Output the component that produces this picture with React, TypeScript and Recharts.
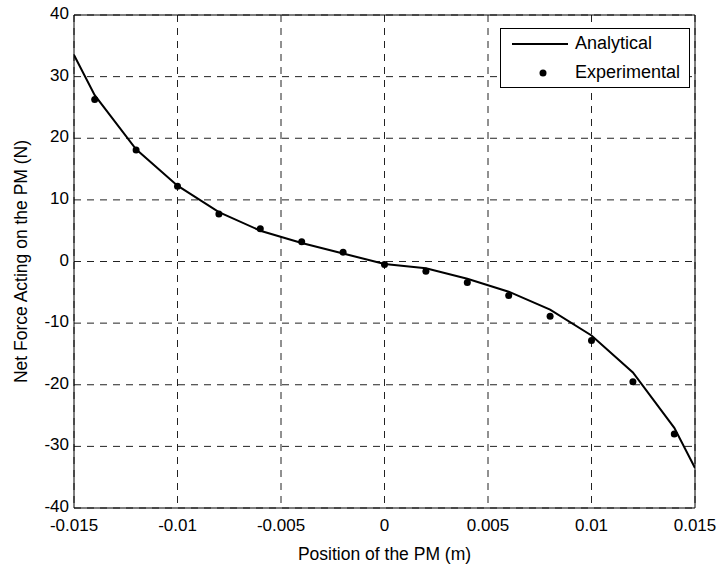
import React from 'react';
import {
  ComposedChart,
  Line,
  Scatter,
  XAxis,
  YAxis,
  CartesianGrid,
  Legend,
  ReferenceLine,
} from 'recharts';

// analytical curve, sampled at the same positions as the measurements (+ the ends)
const linePositions = [
  -0.015, -0.014, -0.012, -0.01, -0.008, -0.006, -0.004, -0.002, 0, 0.002, 0.004, 0.006, 0.008,
  0.01, 0.012, 0.014, 0.015,
];
const lineForce = [
  33.5, 27.0, 18.2, 12.3, 8.0, 5.0, 3.0, 1.3, -0.4, -1.1, -2.8, -4.9, -7.8, -12.0, -18.0, -27.0,
  -33.5,
];

// measured points
const pointPositions = [
  -0.014, -0.012, -0.01, -0.008, -0.006, -0.004, -0.002, 0, 0.002, 0.004, 0.006, 0.008, 0.01,
  0.012, 0.014,
];
const pointForce = [
  26.3, 18.1, 12.2, 7.7, 5.3, 3.2, 1.5, -0.5, -1.6, -3.4, -5.5, -8.9, -12.8, -19.5, -28.0,
];

const xTicks = [-0.015, -0.01, -0.005, 0, 0.005, 0.01, 0.015];
const yTicks = [-40, -30, -20, -10, 0, 10, 20, 30, 40];

const FONT = '"Liberation Sans", Arial, sans-serif';

const lineData = linePositions.map((x, i) => ({ x, f: lineForce[i] }));
const pointData = pointPositions.map((x, i) => ({ x, f: pointForce[i] }));

function YTick(props: any) {
  const { x, y, payload } = props;
  return (
    <text x={x} y={y - 2} dy="0.355em" textAnchor="end" fill="#000" fontSize={17} fontFamily={FONT}>
      {payload.value}
    </text>
  );
}

function MatlabLegend() {
  return (
    <div
      style={{
        width: 188,
        height: 58,
        border: '1px solid #000',
        background: '#fff',
        fontFamily: FONT,
        fontSize: 18,
        color: '#000',
        position: 'relative',
        textAlign: 'left',
      }}
    >
      <svg width={60} height={58} style={{ position: 'absolute', left: 8, top: 0 }}>
        <line x1={3} x2={59} y1={15} y2={15} stroke="#000" strokeWidth={2} />
        <circle cx={34} cy={44} r={3.5} fill="#000" />
      </svg>
      <div style={{ position: 'absolute', left: 74, top: 4, whiteSpace: 'nowrap' }}>Analytical</div>
      <div style={{ position: 'absolute', left: 74, top: 33, whiteSpace: 'nowrap' }}>Experimental</div>
    </div>
  );
}

export default function App() {
  return (
    <div style={{ position: 'absolute', left: 0, top: 0, width: 719, height: 566, background: '#fff' }}>
      <ComposedChart
        width={719}
        height={566}
        margin={{ top: 15, right: 24, left: 0, bottom: 0 }}
      >
        <CartesianGrid stroke="#222" strokeDasharray="7 6" />
        <XAxis
          dataKey="x"
          type="number"
          domain={[-0.015, 0.015]}
          ticks={xTicks}
          tickFormatter={(v) => String(v)}
          height={58}
          tickLine={false}
          tickSize={0}
          tickMargin={11}
          axisLine={{ stroke: '#000' }}
          tick={{ fill: '#000', fontSize: 17, fontFamily: FONT }}
          interval={0}
          allowDataOverflow
          label={{
            value: 'Position of the PM (m)',
            position: 'insideBottom',
            offset: 6,
            fill: '#000',
            fontSize: 17.5,
            fontFamily: FONT,
          }}
        />
        <YAxis
          dataKey="f"
          type="number"
          domain={[-40, 40]}
          ticks={yTicks}
          width={74}
          tickLine={false}
          tickSize={0}
          tickMargin={5}
          axisLine={{ stroke: '#000' }}
          tick={<YTick />}
          interval={0}
          allowDataOverflow
          label={{
            value: 'Net Force Acting on the PM (N)',
            angle: -90,
            position: 'insideLeft',
            offset: 21,
            fill: '#000',
            fontSize: 17.5,
            fontFamily: FONT,
            style: { textAnchor: 'middle' },
          }}
        />
        <ReferenceLine y={40} stroke="#000" />
        <ReferenceLine x={0.015} stroke="#000" />
        <Legend
          layout="horizontal"
          verticalAlign="middle"
          content={<MatlabLegend />}
          wrapperStyle={{ position: 'absolute', left: 500, top: 28, width: 190, height: 60 }}
        />
        <Line
          name="Analytical"
          data={lineData}
          dataKey="f"
          stroke="#000"
          strokeWidth={2}
          dot={false}
          activeDot={false}
          type="linear"
          isAnimationActive={false}
        />
        <Scatter
          name="Experimental"
          data={pointData}
          dataKey="f"
          fill="#000"
          shape={(p: any) => <circle cx={p.cx} cy={p.cy} r={3.5} fill="#000" />}
          isAnimationActive={false}
        />
      </ComposedChart>
    </div>
  );
}
